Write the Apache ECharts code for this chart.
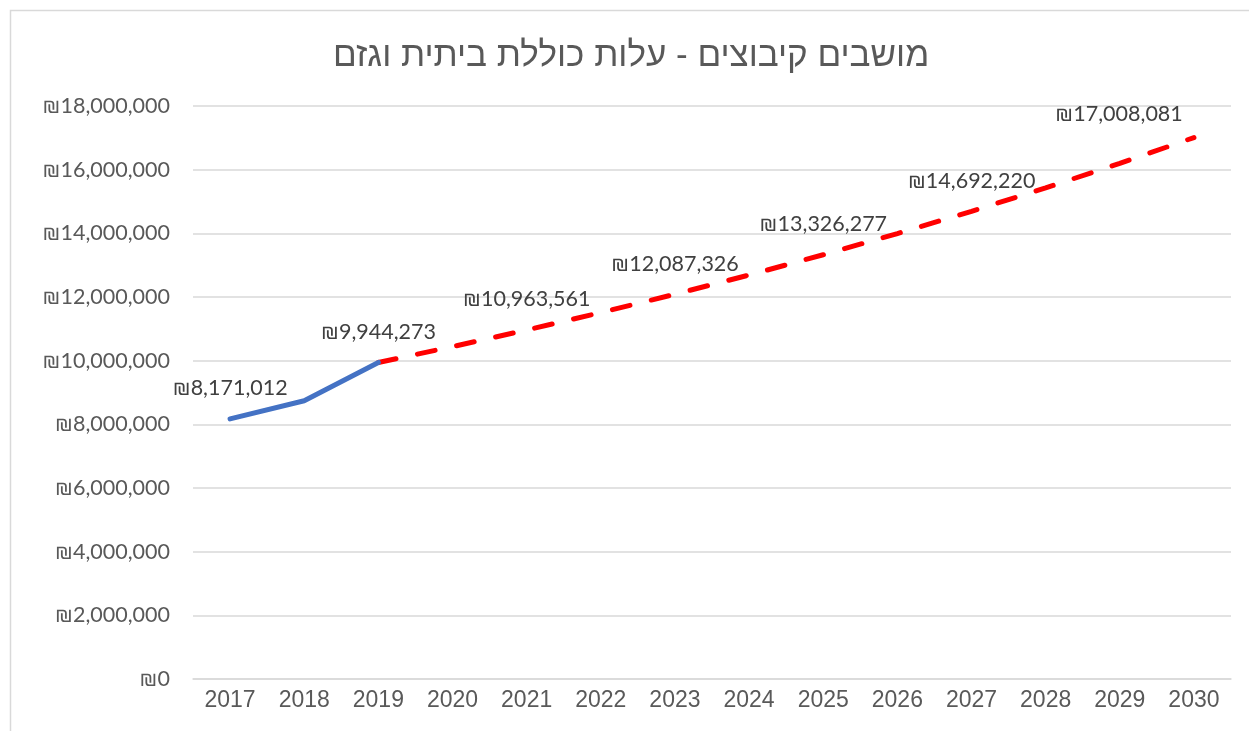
<!DOCTYPE html>
<html>
<head>
<meta charset="utf-8">
<script src="https://cdn.jsdelivr.net/npm/echarts@6/dist/echarts.min.js"></script>
<style>
    html, body { margin: 0; padding: 0; background: #fff; }
    #chart-main { width: 1249px; height: 731px; }
</style>
</head>
<body>
<div id="chart-main"></div>
<script>
var titleText = 'מושבים קיבוצים - עלות כוללת ביתית וגזם';
var years = ['2017', '2018', '2019', '2020', '2021', '2022', '2023', '2024', '2025', '2026', '2027', '2028', '2029', '2030'];
var actualValues = [8171012, 8740000, 9944273, null, null, null, null, null, null, null, null, null, null, null];
var forecastValues = [null, null, 9944273, 10441487, 10963561, 11511739, 12087326, 12691692, 13326277, 13992591, 14692220, 15426831, 16198173, 17008081];
var actualLabelYears = ['2017', '2019'];
var forecastLabelYears = ['2021', '2023', '2025', '2027', '2030'];

function shekel(v) {
    return '₪' + Number(v).toLocaleString('en-US');
}

function buildData(values, labelYears) {
    return values.map(function (v, i) {
        var item = { value: v };
        if (v !== null && labelYears.indexOf(years[i]) !== -1) {
            item.label = { show: true };
            if (years[i] === '2030') {
                item.label.offset = [-75, 7];
            }
        }
        return item;
    });
}

function chartInit() {

    var chartDom = document.getElementById('chart-main');
    var myChart = echarts.init(chartDom);
    var option;

    var labelStyle = {
        show: false,
        position: 'top',
        distance: 19,
        color: '#404040',
        fontSize: 21.5,
        fontFamily: 'Lato',
        formatter: function (p) { return shekel(p.value); }
    };

    option = {
        backgroundColor: '#ffffff',
        animation: false,
        graphic: [
            {
                type: 'rect',
                shape: { x: 10.5, y: 10.5, width: 1245, height: 730 },
                style: { fill: 'none', stroke: '#d9d9d9', lineWidth: 1.5 },
                silent: true
            }
        ],
        title: {
            text: titleText,
            left: 328,
            top: 34,
            textStyle: {
                color: '#595959',
                fontSize: 35,
                fontWeight: 'normal',
                fontFamily: 'Liberation Sans'
            }
        },
        grid: {
            left: 193,
            right: 18,
            top: 106,
            bottom: 52
        },
        xAxis: {
            type: 'category',
            data: years,
            boundaryGap: true,
            axisLine: { show: true, lineStyle: { color: '#d9d9d9', width: 1.5 } },
            axisTick: { show: false },
            axisLabel: {
                color: '#595959',
                fontSize: 23,
                fontFamily: 'Liberation Sans',
                margin: 10
            }
        },
        yAxis: {
            type: 'value',
            min: 0,
            max: 18000000,
            interval: 2000000,
            axisLine: { show: false },
            axisTick: { show: false },
            axisLabel: {
                color: '#595959',
                fontSize: 21.5,
                fontFamily: 'Lato',
                margin: 23,
                formatter: shekel
            },
            splitLine: { lineStyle: { color: '#d9d9d9', width: 1.5 } }
        },
        series: [
            {
                name: 'forecast',
                type: 'line',
                data: buildData(forecastValues, forecastLabelYears),
                showSymbol: true,
                symbol: 'circle',
                symbolSize: 1,
                itemStyle: { color: 'rgba(0,0,0,0)' },
                lineStyle: { color: '#ff0000', width: 5, type: [18, 22], cap: 'round' },
                label: labelStyle
            },
            {
                name: 'actual',
                type: 'line',
                data: buildData(actualValues, actualLabelYears),
                showSymbol: true,
                symbol: 'circle',
                symbolSize: 1,
                itemStyle: { color: 'rgba(0,0,0,0)' },
                lineStyle: { color: '#4472c4', width: 5, cap: 'round', join: 'round' },
                label: labelStyle
            }
        ]
    };

    option && myChart.setOption(option);

}

chartInit();
</script>
</body>
</html>
